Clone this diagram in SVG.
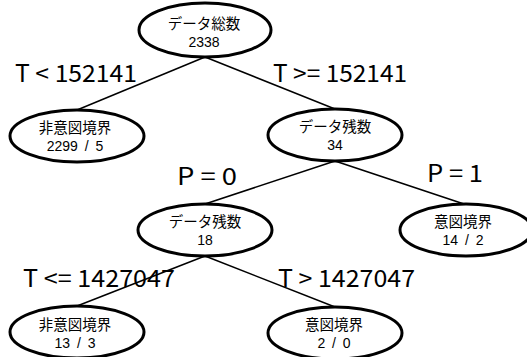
<svg xmlns="http://www.w3.org/2000/svg" width="527" height="357" viewBox="0 0 527 357">
<style>
.node ellipse{fill:#fff;stroke:#000;stroke-width:3}
.node text{font-family:"Noto Sans CJK JP","Noto Sans",sans-serif;font-size:14.5px;text-anchor:middle;fill:#000}
.node text.n{font-family:"Liberation Sans",Arial,sans-serif;font-size:14px}
.edge line{stroke:#000;stroke-width:1.5}
.lbl{font-family:"Noto Sans CJK JP","Noto Sans",sans-serif;font-size:24px;fill:#000}
</style>
<rect width="527" height="357" fill="#fff"/>
<g id="connectors" class="edge">
<line x1="205" y1="57" x2="77" y2="110"/>
<line x1="205" y1="57" x2="335" y2="109"/>
<line x1="335" y1="161" x2="205" y2="204"/>
<line x1="335" y1="161" x2="464" y2="204"/>
<line x1="205" y1="256" x2="77" y2="306"/>
<line x1="205" y1="256" x2="335" y2="307"/>
</g>
<g id="labels">
<text class="lbl" x="15" y="82" textLength="122" lengthAdjust="spacingAndGlyphs">T &lt; 152141</text>
<text class="lbl" x="273" y="82" textLength="134" lengthAdjust="spacingAndGlyphs">T &gt;= 152141</text>
<text class="lbl" x="177" y="185" textLength="60" lengthAdjust="spacingAndGlyphs">P = 0</text>
<text class="lbl" x="427" y="182" textLength="56" lengthAdjust="spacingAndGlyphs">P = 1</text>
<text class="lbl" x="23" y="287" textLength="152" lengthAdjust="spacingAndGlyphs">T &lt;= 1427047</text>
<text class="lbl" x="278" y="287" textLength="137" lengthAdjust="spacingAndGlyphs">T &gt; 1427047</text>
</g>
<g id="root" class="node">
<ellipse cx="205" cy="30" rx="66" ry="27"/>
<text x="204" y="28.5">データ総数</text>
<text class="n" x="204" y="47">2338</text>
</g>
<g id="n_left" class="node">
<ellipse cx="77" cy="136" rx="67" ry="26"/>
<text x="75" y="132.5">非意図境界</text>
<text class="n" x="75" y="151" word-spacing="3">2299 / 5</text>
</g>
<g id="n_rest34" class="node">
<ellipse cx="335" cy="135" rx="67" ry="26"/>
<text x="335" y="131.5">データ残数</text>
<text class="n" x="335" y="150">34</text>
</g>
<g id="n_rest18" class="node">
<ellipse cx="205" cy="230" rx="67" ry="26"/>
<text x="205" y="226.5">データ残数</text>
<text class="n" x="205" y="245">18</text>
</g>
<g id="n_p1" class="node">
<ellipse cx="466" cy="230" rx="66" ry="26"/>
<text x="463" y="226.5">意図境界</text>
<text class="n" x="463" y="245" word-spacing="3">14 / 2</text>
</g>
<g id="n_ll" class="node">
<ellipse cx="77" cy="332" rx="67" ry="26"/>
<text x="75" y="329.5">非意図境界</text>
<text class="n" x="75" y="348" word-spacing="3">13 / 3</text>
</g>
<g id="n_lr" class="node">
<ellipse cx="335" cy="333" rx="67" ry="26"/>
<text x="334" y="329.5">意図境界</text>
<text class="n" x="334" y="348" word-spacing="3">2 / 0</text>
</g>
</svg>
